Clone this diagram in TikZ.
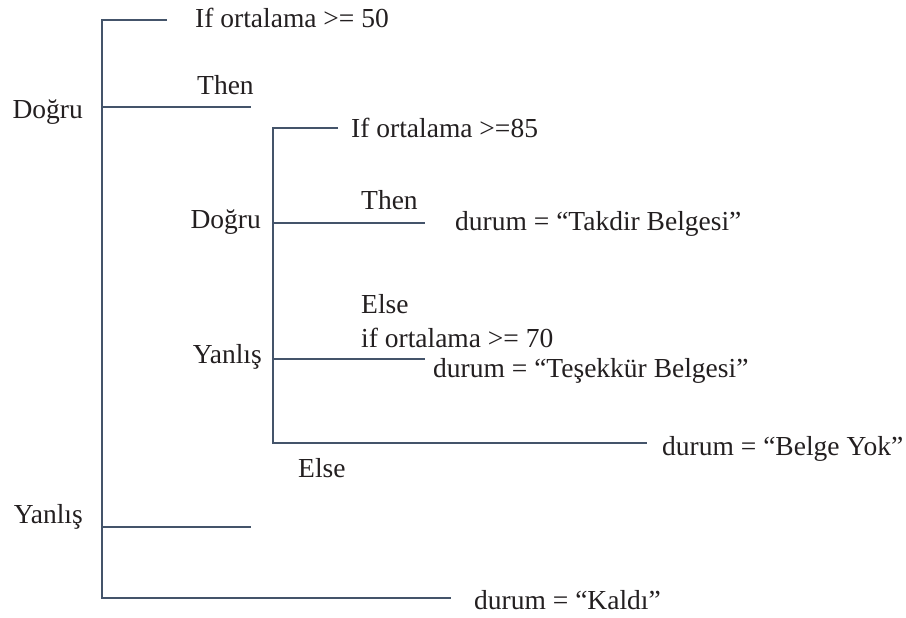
\documentclass[tikz,border=0pt]{standalone}
\usepackage{fontspec}
\setmainfont{Liberation Serif}
\definecolor{linec}{HTML}{44546A}
\definecolor{txtc}{HTML}{231F20}
\begin{document}
\begin{tikzpicture}[x=1pt,y=-1pt,
  br/.style={draw=linec,line width=2.2pt},
  lbl/.style={inner sep=0pt,text=txtc,font=\fontsize{27.5}{32}\selectfont},
  lw/.style={lbl,anchor=base west},
  le/.style={lbl,anchor=base east}]
\useasboundingbox (0,0) rectangle (906,618);
% outer bracket
\coordinate (o1) at (102,20);
\coordinate (o1e) at (167,20);
\coordinate (o2) at (102,107);
\coordinate (o2e) at (251,107);
\coordinate (o3) at (102,527);
\coordinate (o3e) at (251,527);
\coordinate (o4) at (102,598);
\coordinate (o4e) at (451,598);
\draw[br] (o1e) -- (o1) -- (o4) -- (o4e);
\draw[br] (o2) -- (o2e);
\draw[br] (o3) -- (o3e);
% inner bracket
\coordinate (i1) at (273,128);
\coordinate (i1e) at (338,128);
\coordinate (i2) at (273,223);
\coordinate (i2e) at (425,223);
\coordinate (i3) at (273,359);
\coordinate (i3e) at (425,359);
\coordinate (i4) at (273,443);
\coordinate (i4e) at (647,443);
\draw[br] (i1e) -- (i1) -- (i4) -- (i4e);
\draw[br] (i2) -- (i2e);
\draw[br] (i3) -- (i3e);
% texts
\node[lw] (t1) at (195,28) {If ortalama >= 50};
\node[lw] (t2) at (197,95) {Then};
\node[le] (t3) at (83,118) {Doğru};
\node[lw] (t4) at (351,138) {If ortalama >=85};
\node[lw] (t5) at (361,209) {Then};
\node[le] (t6) at (261,228) {Doğru};
\node[lw] (t7) at (455,230) {durum = “Takdir Belgesi”};
\node[lw] (t8) at (361,313) {Else};
\node[lw] (t9) at (361,347) {if ortalama >= 70};
\node[le] (t10) at (262,363) {Yanlış};
\node[lw] (t11) at (433,377) {durum = “Teşekkür Belgesi”};
\node[lw] (t12) at (662,455) {durum = “Belge Yok”};
\node[lw] (t13) at (298,477) {Else};
\node[le] (t14) at (83,523) {Yanlış};
\node[lw] (t15) at (474,609) {durum = “Kaldı”};
\end{tikzpicture}
\end{document}
